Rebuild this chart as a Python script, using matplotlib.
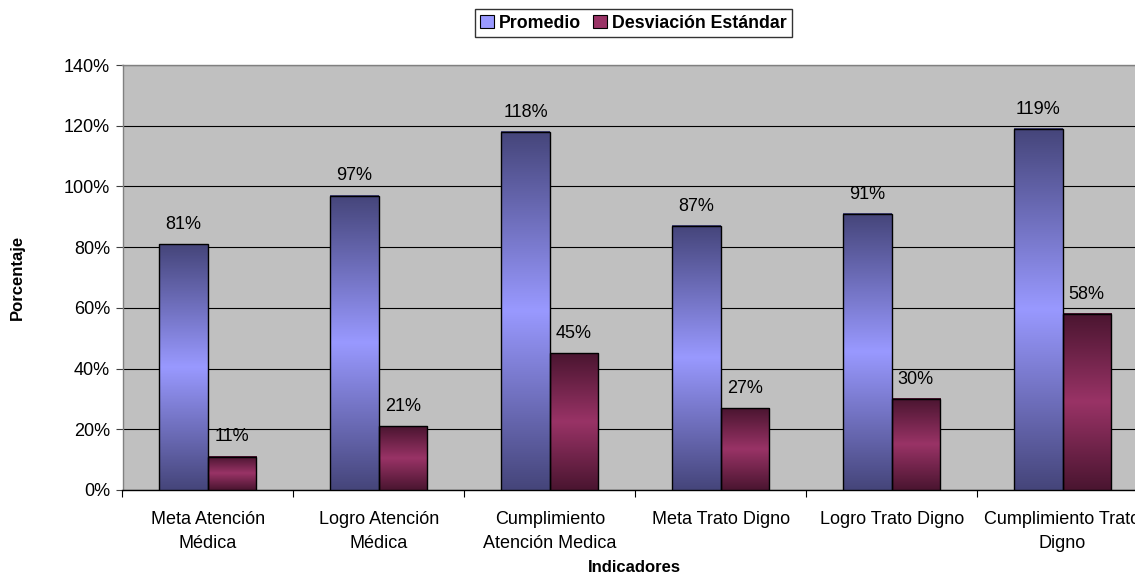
import numpy as np
import matplotlib
matplotlib.use("Agg")
import matplotlib.pyplot as plt
from matplotlib.colors import to_rgb
from matplotlib.patches import Patch
from matplotlib.ticker import FixedLocator, FuncFormatter

plt.rcParams['font.family'] = ['Liberation Sans', 'DejaVu Sans']

categories = ["Meta Atención\nMédica", "Logro Atención\nMédica", "Cumplimiento\nAtención Medica",
              "Meta Trato Digno", "Logro Trato Digno", "Cumplimiento Trato\nDigno"]
promedio = [81, 97, 118, 87, 91, 119]
desviacion = [11, 21, 45, 27, 30, 58]
series_names = ["Promedio", "Desviación Estándar"]
y_ticks = [0, 20, 40, 60, 80, 100, 120, 140]

light_colors = ["#9999FF", "#993366"]
dark_colors = ["#45457A", "#4A1530"]

fig = plt.figure(figsize=(11.35, 5.77), dpi=100)
fig.patch.set_facecolor("white")
ax = fig.add_axes([122.5 / 1135, 1 - 490 / 577, (1148 - 122.5) / 1135, (490 - 65) / 577])
ax.set_facecolor("#C0C0C0")

x = np.arange(len(categories))
bw = 0.284


def gradient_image(light, dark, n=256):
    t = np.abs(np.linspace(-1, 1, n))[:, None]
    lo = np.array(to_rgb(light))
    hi = np.array(to_rgb(dark))
    img = lo[None, :] * (1 - t) + hi[None, :] * t
    return img[:, None, :]


for k, (vals, off) in enumerate([(promedio, -bw / 2), (desviacion, bw / 2)]):
    bars = ax.bar(x + off, vals, width=bw, facecolor="none", edgecolor="black",
                  linewidth=1.0, zorder=4)
    img = gradient_image(light_colors[k], dark_colors[k])
    for rect, v in zip(bars, vals):
        x0 = rect.get_x()
        ax.imshow(img, extent=(x0, x0 + rect.get_width(), 0, rect.get_height()),
                  aspect="auto", origin="lower", zorder=3, interpolation="bilinear")
        ax.annotate(f"{v:.0f}%", (x0 + rect.get_width() / 2, rect.get_height()),
                    xytext=(0, 8), textcoords="offset points", ha="center", va="bottom",
                    fontsize=13, color="black", zorder=5)

ax.set_xlim(-0.5, len(categories) - 0.5)
ax.set_ylim(0, 140)

ax.yaxis.set_major_locator(FixedLocator(y_ticks))
ax.yaxis.set_major_formatter(FuncFormatter(lambda v, p: f"{v:.0f}%"))
ax.grid(axis="y", color="black", linewidth=0.8, zorder=1)
ax.set_axisbelow(True)
ax.tick_params(axis="y", direction="out", length=5, width=0.8, color="#404040",
               labelsize=13, pad=4)

ax.set_xticks(x)
ax.set_xticklabels(categories, fontsize=13, linespacing=1.55)
ax.tick_params(axis="x", which="major", length=0, pad=15)
ax.set_xticks(np.arange(-0.5, len(categories) + 0.5, 1), minor=True)
ax.tick_params(axis="x", which="minor", direction="out", length=5, width=0.8, color="black")

for side in ["left", "top"]:
    ax.spines[side].set_color("#808080")
    ax.spines[side].set_linewidth(1.0)
ax.spines["bottom"].set_color("black")
ax.spines["bottom"].set_linewidth(1.0)
ax.spines["right"].set_visible(False)

fig.text(634 / 1135, 1 - 568 / 577, "Indicadores", fontsize=12, fontweight="bold",
         ha="center", va="center")
ax.set_ylabel("Porcentaje", fontsize=12, fontweight="bold", labelpad=28)

handles = [Patch(facecolor=c, edgecolor="black", linewidth=0.8) for c in light_colors]
leg = fig.legend(handles, series_names, loc="center", bbox_to_anchor=(633.5 / 1135, 1 - 23 / 577),
                 ncol=2, frameon=True, fancybox=False, edgecolor="black",
                 prop={"weight": "bold", "size": 12.8}, handlelength=0.75, handleheight=0.75,
                 handletextpad=0.3, columnspacing=0.7, borderpad=0.3, borderaxespad=0)
leg.get_frame().set_linewidth(1.0)

fig.savefig("out.png", dpi=100, facecolor="white")
